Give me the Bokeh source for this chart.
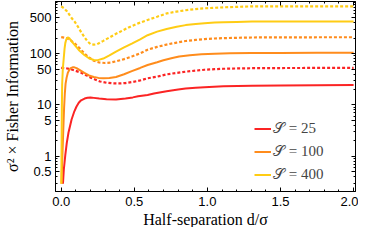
from bokeh.plotting import figure
from bokeh.models import (Range1d, FixedTicker, LinearAxis, LogAxis, Legend,
                          LegendItem, CustomJSTickFormatter, Title)
from bokeh.embed import file_html
from bokeh.resources import INLINE

# ---- data (half-separation d/sigma, sigma^2 x Fisher information)
# S = 25
d_red_solid = [0.012, 0.018, 0.028, 0.038, 0.05, 0.071, 0.09, 0.104, 0.12, 0.136, 0.16, 0.18,
               0.2, 0.223, 0.26, 0.31, 0.375, 0.44, 0.49, 0.526, 0.591, 0.634, 0.721, 0.8,
               0.851, 0.92, 0.98, 1.11, 1.305, 1.5, 1.75, 2.0]
f_red_solid = [0.29, 0.55, 1.05, 1.8, 2.9, 5.2, 7.5, 9.2, 11.0, 12.3, 13.3, 13.8,
               13.9, 13.7, 13.3, 12.9, 12.7, 13.3, 14.0, 14.7, 15.6, 16.6, 18.5, 19.9,
               20.8, 21.5, 22.1, 23.1, 23.7, 24.0, 24.2, 24.3]
d_red_dot = [0.0, 0.03, 0.071, 0.1, 0.136, 0.17, 0.201, 0.235, 0.266, 0.31, 0.353, 0.4, 0.44,
             0.49, 0.548, 0.591, 0.656, 0.721, 0.79, 0.851, 0.92, 0.98, 1.05, 1.11, 1.2,
             1.305, 1.5, 1.75, 2.0]
f_red_dot = [52.8, 52.0, 49.0, 46.0, 42.4, 38.0, 34.0, 31.0, 28.6, 27.0, 26.3, 26.2, 26.6,
             28.0, 30.3, 33.0, 35.5, 39.4, 42.0, 44.4, 46.5, 48.4, 49.6, 50.6, 51.3,
             51.9, 52.3, 52.5, 52.6]
# S = 100
d_orange_solid = [0.002, 0.008, 0.012, 0.016, 0.02, 0.025, 0.03, 0.037, 0.045, 0.055, 0.065,
                  0.078, 0.09, 0.105, 0.125, 0.158, 0.19, 0.223, 0.255, 0.288, 0.33, 0.375,
                  0.43, 0.483, 0.54, 0.591, 0.656, 0.699, 0.76, 0.807, 0.88, 0.959, 1.05,
                  1.153, 1.3, 1.5, 1.75, 2.0]
f_orange_solid = [0.29, 1.0, 2.1, 4.5, 9.0, 17.0, 26.0, 34.0, 42.0, 48.0, 52.0,
                  54.0, 54.0, 52.0, 48.0, 42.0, 37.5, 35.0, 33.6, 33.0, 33.3, 35.0,
                  39.5, 45.5, 52.5, 60.0, 68.0, 74.0, 82.0, 87.5, 93.0, 97.0, 99.5,
                  101.5, 102.5, 103.0, 103.5, 103.5]
d_orange_dot = [0.0, 0.039, 0.065, 0.093, 0.125, 0.158, 0.19, 0.223, 0.26, 0.3, 0.34, 0.375,
                0.43, 0.483, 0.54, 0.591, 0.656, 0.721, 0.79, 0.851, 0.92, 0.98, 1.05, 1.11,
                1.2, 1.305, 1.5, 1.75, 2.0]
f_orange_dot = [209, 200, 182, 157, 128, 101, 84, 72.6, 67, 65.6, 67, 70.5,
                78, 87.5, 101, 119, 135, 150, 164, 176, 185, 192, 197, 200,
                203, 206, 207, 208, 208]
# S = 400
d_yellow_solid = [0.001, 0.003, 0.0045, 0.0065, 0.011, 0.0175, 0.023, 0.028, 0.035, 0.045,
                  0.055, 0.07, 0.093, 0.12, 0.158, 0.19, 0.223, 0.25, 0.288, 0.33, 0.375,
                  0.43, 0.483, 0.54, 0.591, 0.656, 0.721, 0.79, 0.851, 0.92, 0.98, 1.05,
                  1.11, 1.2, 1.305, 1.5, 1.75, 2.0]
f_yellow_solid = [0.29, 2.0, 8.0, 25.0, 50.0, 82.0, 125.0, 160.0, 190.0, 207.0,
                  200.0, 175.0, 146.0, 118.0, 94.0, 81.0, 75.0, 74.5, 80.0, 92.0, 109.0,
                  132.0, 157.0, 190.0, 228.0, 268.0, 302.0, 335.0, 359.0, 378.0, 392.0, 402.0,
                  409.0, 415.0, 421.0, 423.0, 424.0, 424.0]
d_yellow_dot = [0.0, 0.0175, 0.039, 0.071, 0.093, 0.117, 0.136, 0.158, 0.18, 0.201, 0.223,
                0.245, 0.266, 0.288, 0.331, 0.375, 0.418, 0.461, 0.526, 0.591, 0.656, 0.721,
                0.786, 0.851, 0.916, 0.981, 1.11, 1.305, 1.5, 1.75, 2.0]
f_yellow_dot = [833, 774, 670, 494, 415, 326, 262, 211, 173, 153, 149,
                152, 164, 177, 207, 243, 280, 324, 388, 453, 523, 606,
                656, 700, 738, 764, 798, 833, 833, 833, 833]

series_labels = ["𝒮 = 25", "𝒮 = 100", "𝒮 = 400"]
x_title = "Half-separation d/σ"
y_title = "σ² × Fisher Information"
x_ticks = [0.0, 0.5, 1.0, 1.5, 2.0]
x_minor = [0.1, 0.2, 0.3, 0.4, 0.6, 0.7, 0.8, 0.9, 1.1, 1.2, 1.3, 1.4, 1.6, 1.7, 1.8, 1.9]
y_ticks = [0.5, 1, 5, 10, 50, 100, 500]
y_minor = [0.2, 0.3, 0.4, 0.6, 0.7, 0.8, 0.9, 2, 3, 4, 6, 7, 8, 9, 20, 30, 40, 60, 70, 80, 90,
           200, 300, 400, 600, 700, 800, 900, 1000]

RED, ORANGE, YELLOW = "#fb2424", "#ff8c1c", "#ffcc14"
SERIF = "Liberation Serif"
SANS = "Liberation Sans"

p = figure(width=358, height=227, x_range=Range1d(-0.039, 2.013),
           y_range=Range1d(0.205, 1036), y_axis_type="log",
           output_backend="svg", toolbar_location=None,
           min_border_left=45, min_border_right=3, min_border_top=1, min_border_bottom=20)
p.xgrid.visible = False
p.ygrid.visible = False
p.outline_line_color = "black"
p.background_fill_color = None
p.border_fill_color = None

xt = FixedTicker(ticks=x_ticks, minor_ticks=x_minor)
yt = FixedTicker(ticks=y_ticks, minor_ticks=y_minor)
xfmt = CustomJSTickFormatter(code="return tick.toFixed(1);")
yfmt = CustomJSTickFormatter(code="return tick.toString();")

def style(ax, show):
    ax.major_tick_in = 4
    ax.major_tick_out = 0
    ax.minor_tick_in = 2
    ax.minor_tick_out = 0
    ax.axis_line_color = "black"
    ax.major_tick_line_color = "black"
    ax.minor_tick_line_color = "black"
    if show:
        ax.major_label_text_font = SANS
        ax.major_label_text_font_size = "13px"
        ax.major_label_text_color = "black"
        ax.axis_label_text_font = SERIF
        ax.axis_label_text_font_size = "16px"
        ax.axis_label_text_font_style = "normal"
        ax.axis_label_text_color = "black"
    else:
        ax.major_label_text_font_size = "0px"
        ax.major_label_text_color = None
        ax.major_label_standoff = 0

xa = p.xaxis[0]
xa.ticker = xt
xa.formatter = xfmt
style(xa, True)
xa.major_label_standoff = 5

ya = p.yaxis[0]
ya.ticker = yt
ya.formatter = yfmt
ya.axis_label = y_title
style(ya, True)
ya.major_label_standoff = 4
ya.axis_label_standoff = 6

top = LinearAxis(ticker=FixedTicker(ticks=x_ticks, minor_ticks=x_minor))
style(top, False)
p.add_layout(top, "above")
right = LogAxis(ticker=FixedTicker(ticks=y_ticks, minor_ticks=y_minor))
style(right, False)
p.add_layout(right, "right")

# x-axis title as a Title in its own panel below the axis
p.add_layout(Title(text=x_title, align="center", offset=4, standoff=0,
                   vertical_align="bottom",
                   text_font=SERIF, text_font_size="16px", text_font_style="normal",
                   text_color="black"), "below")

r_red = p.line(d_red_solid, f_red_solid, line_color=RED, line_width=2)
p.line(d_red_dot, f_red_dot, line_color=RED, line_width=2.2, line_dash="3 2")
r_or = p.line(d_orange_solid, f_orange_solid, line_color=ORANGE, line_width=2)
p.line(d_orange_dot, f_orange_dot, line_color=ORANGE, line_width=2.2, line_dash="3 2")
r_ye = p.line(d_yellow_solid, f_yellow_solid, line_color=YELLOW, line_width=2)
p.line(d_yellow_dot, f_yellow_dot, line_color=YELLOW, line_width=2.2, line_dash="3 2")

legend = Legend(items=[LegendItem(label=series_labels[0], renderers=[r_red]),
                       LegendItem(label=series_labels[1], renderers=[r_or]),
                       LegendItem(label=series_labels[2], renderers=[r_ye])],
                location=(199, 8), margin=0, padding=0, spacing=6,
                glyph_width=17, glyph_height=15, label_height=15, label_standoff=2,
                label_text_font=SERIF, label_text_font_size="15px",
                background_fill_alpha=0, border_line_color=None)
p.add_layout(legend, "center")

open("out.html", "w").write(file_html(p, INLINE))
